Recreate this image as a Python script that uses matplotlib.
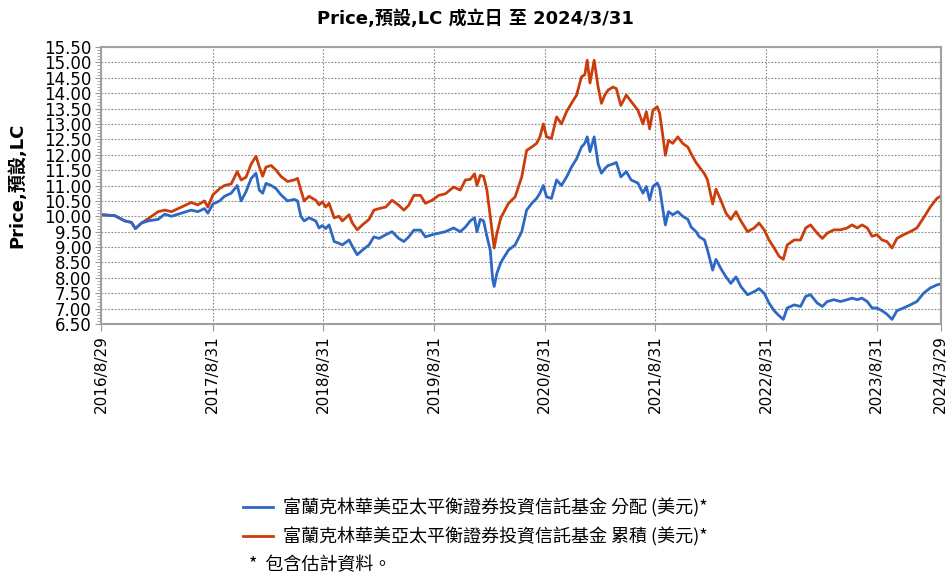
import matplotlib
matplotlib.use("Agg")
import matplotlib.pyplot as plt
from matplotlib.ticker import MultipleLocator, FormatStrFormatter
from matplotlib.lines import Line2D
import pandas as pd

# Dados (datas aproximadas, preço em USD)
datas = [
    "2016-08-29", "2016-10-12", "2016-11-14", "2016-12-06", "2016-12-19", "2017-01-08",
    "2017-01-30", "2017-03-04", "2017-03-26", "2017-04-17", "2017-05-20", "2017-06-21",
    "2017-07-13", "2017-08-04", "2017-08-15", "2017-09-01", "2017-09-23", "2017-10-09",
    "2017-10-31", "2017-11-20", "2017-12-03", "2017-12-19", "2018-01-05", "2018-01-21",
    "2018-02-01", "2018-02-12", "2018-02-23", "2018-03-12", "2018-03-28", "2018-04-13",
    "2018-05-05", "2018-05-27", "2018-06-07", "2018-06-18", "2018-06-29", "2018-07-15",
    "2018-08-06", "2018-08-17", "2018-08-28", "2018-09-08", "2018-09-19", "2018-10-06",
    "2018-10-22", "2018-11-02", "2018-11-24", "2018-12-05", "2018-12-21", "2019-01-07",
    "2019-01-29", "2019-02-14", "2019-03-03", "2019-03-25", "2019-04-15", "2019-05-07",
    "2019-05-24", "2019-06-09", "2019-06-26", "2019-07-18", "2019-08-03", "2019-08-25",
    "2019-09-16", "2019-10-08", "2019-11-04", "2019-11-26", "2019-12-13", "2019-12-29",
    "2020-01-12", "2020-01-20", "2020-01-31", "2020-02-11", "2020-02-22", "2020-03-04",
    "2020-03-12", "2020-03-17", "2020-03-26", "2020-04-08", "2020-05-03", "2020-05-25",
    "2020-06-16", "2020-07-02", "2020-07-19", "2020-08-04", "2020-08-15", "2020-08-26",
    "2020-09-06", "2020-09-22", "2020-10-09", "2020-10-25", "2020-11-11", "2020-11-27",
    "2020-12-14", "2020-12-30", "2021-01-10", "2021-01-18", "2021-01-27", "2021-02-10",
    "2021-02-23", "2021-03-06", "2021-03-17", "2021-03-28", "2021-04-13", "2021-04-24",
    "2021-05-09", "2021-05-27", "2021-06-12", "2021-07-04", "2021-07-21", "2021-08-01",
    "2021-08-12", "2021-08-23", "2021-09-06", "2021-09-14", "2021-09-25", "2021-10-03",
    "2021-10-13", "2021-10-27", "2021-11-13", "2021-11-29", "2021-12-16", "2021-12-27",
    "2022-01-12", "2022-01-23", "2022-02-09", "2022-02-19", "2022-03-08", "2022-03-19",
    "2022-04-04", "2022-04-21", "2022-05-07", "2022-05-24", "2022-06-09", "2022-07-01",
    "2022-07-23", "2022-08-08", "2022-08-25", "2022-09-10", "2022-09-27", "2022-10-13",
    "2022-10-27", "2022-11-09", "2022-12-02", "2022-12-23", "2023-01-09", "2023-01-25",
    "2023-02-16", "2023-03-05", "2023-03-21", "2023-04-12", "2023-05-04", "2023-05-26",
    "2023-06-11", "2023-06-28", "2023-07-14", "2023-07-31", "2023-08-16", "2023-09-01",
    "2023-09-18", "2023-10-04", "2023-10-21", "2023-11-06", "2023-11-28", "2023-12-20",
    "2024-01-11", "2024-02-02", "2024-02-24", "2024-03-17", "2024-03-29",
]

preco_distribuicao = [
    10.05, 10.02, 9.85, 9.80, 9.60, 9.78,
    9.85, 9.90, 10.07, 10.00, 10.10, 10.20,
    10.15, 10.25, 10.10, 10.40, 10.50, 10.65,
    10.75, 11.00, 10.50, 10.80, 11.23, 11.40,
    10.85, 10.75, 11.07, 11.00, 10.90, 10.70,
    10.50, 10.55, 10.50, 10.00, 9.85, 9.95,
    9.85, 9.62, 9.70, 9.60, 9.72, 9.18,
    9.12, 9.07, 9.23, 9.02, 8.75, 8.90,
    9.07, 9.33, 9.28, 9.40, 9.50, 9.28,
    9.18, 9.33, 9.55, 9.55, 9.33, 9.40,
    9.45, 9.50, 9.62, 9.50, 9.65, 9.85,
    9.95, 9.50, 9.90, 9.85, 9.35, 8.90,
    7.95, 7.72, 8.15, 8.50, 8.90, 9.07,
    9.50, 10.20, 10.42, 10.58, 10.75, 11.00,
    10.63, 10.58, 11.18, 11.00, 11.28, 11.60,
    11.87, 12.25, 12.37, 12.58, 12.10, 12.58,
    11.70, 11.40, 11.55, 11.65, 11.70, 11.75,
    11.28, 11.45, 11.18, 11.08, 10.75, 10.97,
    10.53, 10.97, 11.08, 10.92, 10.20, 9.72,
    10.15, 10.05, 10.15, 10.00, 9.90, 9.65,
    9.50, 9.33, 9.23, 8.90, 8.25, 8.60,
    8.30, 8.03, 7.82, 8.03, 7.72, 7.45,
    7.55, 7.65, 7.50, 7.18, 6.93, 6.77,
    6.65, 7.02, 7.12, 7.07, 7.40, 7.45,
    7.18, 7.07, 7.23, 7.29, 7.23, 7.29,
    7.34, 7.29, 7.34, 7.23, 7.02, 7.02,
    6.93, 6.82, 6.65, 6.93, 7.02, 7.12,
    7.23, 7.50, 7.67, 7.77, 7.80,
]

preco_acumulacao = [
    10.05, 10.02, 9.85, 9.80, 9.60, 9.78,
    9.92, 10.15, 10.20, 10.15, 10.30, 10.45,
    10.37, 10.50, 10.30, 10.70, 10.90, 11.00,
    11.05, 11.45, 11.18, 11.27, 11.70, 11.95,
    11.60, 11.30, 11.60, 11.65, 11.50, 11.30,
    11.13, 11.18, 11.23, 10.85, 10.50, 10.65,
    10.52, 10.37, 10.47, 10.30, 10.42, 9.95,
    10.00, 9.85, 10.05, 9.78, 9.56, 9.72,
    9.90, 10.20, 10.25, 10.30, 10.52, 10.36,
    10.20, 10.36, 10.68, 10.68, 10.42, 10.52,
    10.68, 10.73, 10.95, 10.85, 11.18, 11.20,
    11.38, 11.00, 11.33, 11.30, 10.85, 10.00,
    9.35, 8.97, 9.45, 9.95, 10.42, 10.63,
    11.28, 12.14, 12.25, 12.37, 12.58, 13.00,
    12.58, 12.53, 13.23, 13.00, 13.40, 13.67,
    13.94, 14.53, 14.60, 15.07, 14.33, 15.07,
    14.20, 13.67, 13.94, 14.10, 14.20, 14.15,
    13.60, 13.94, 13.73, 13.45, 13.00, 13.40,
    12.84, 13.45, 13.56, 13.35, 12.58, 11.98,
    12.47, 12.37, 12.58, 12.37, 12.25, 12.03,
    11.75, 11.60, 11.38, 11.18, 10.40, 10.88,
    10.52, 10.10, 9.90, 10.15, 9.85, 9.50,
    9.62, 9.78, 9.56, 9.23, 8.97, 8.70,
    8.60, 9.07, 9.23, 9.23, 9.62, 9.72,
    9.45, 9.28, 9.45, 9.56, 9.56, 9.62,
    9.72, 9.62, 9.72, 9.62, 9.35, 9.40,
    9.23, 9.18, 8.97, 9.28, 9.40, 9.50,
    9.62, 9.95, 10.30, 10.58, 10.65,
]

datas_ticks = ["2016-08-29", "2017-08-31", "2018-08-31", "2019-08-31", "2020-08-31",
               "2021-08-31", "2022-08-31", "2023-08-31", "2024-03-29"]
rotulos_ticks = ["2016/8/29", "2017/8/31", "2018/8/31", "2019/8/31", "2020/8/31",
                 "2021/8/31", "2022/8/31", "2023/8/31", "2024/3/29"]

nome_dist = "富蘭克林華美亞太平衡證券投資信託基金 分配 (美元)*"
nome_acum = "富蘭克林華美亞太平衡證券投資信託基金 累積 (美元)*"

cor_azul = "#2E68C6"
cor_laranja = "#CC3D0C"
cjk = ["Noto Sans CJK TC", "DejaVu Sans"]
misto = ["DejaVu Sans", "Noto Sans CJK TC"]

x = pd.to_datetime(datas)
xt = pd.to_datetime(datas_ticks)

fig = plt.figure(figsize=(9.51, 5.77), dpi=100)
ax = fig.add_axes([0.1067, 0.4385, 0.8823, 0.48])

ax.plot(x, preco_acumulacao, color=cor_laranja, lw=2.0)
ax.plot(x, preco_distribuicao, color=cor_azul, lw=2.0)

ax.set_xlim(xt[0], xt[-1])
ax.set_ylim(6.5, 15.5)
ax.yaxis.set_major_locator(MultipleLocator(0.5))
ax.yaxis.set_minor_locator(MultipleLocator(0.1))
ax.yaxis.set_major_formatter(FormatStrFormatter("%.2f"))
ax.set_xticks(xt)
ax.set_xticklabels(rotulos_ticks, rotation=90, fontsize=11, family="DejaVu Sans")
ax.tick_params(axis="y", which="major", labelsize=12, length=4, color="#999999", pad=3)
ax.tick_params(axis="y", which="minor", length=3, color="#999999")
ax.tick_params(axis="x", length=5, color="#999999", pad=3)

ax.grid(True, which="major", axis="both", linestyle=(0, (1.5, 1.5)), color="#888888", lw=0.8)
for s in ax.spines.values():
    s.set_color("#a0a0a0")
    s.set_linewidth(1.5)

ax.set_ylabel("Price,預設,LC", family=misto, fontweight="bold", fontsize=13)
ax.yaxis.set_label_coords(-0.089, 0.5)
fig.text(0.5, 0.968, "Price,預設,LC 成立日 至 2024/3/31", family=misto, fontweight="bold",
         fontsize=13, ha="center", va="center")

handles = [Line2D([], [], color=cor_azul, lw=2), Line2D([], [], color=cor_laranja, lw=2)]
leg = fig.legend(handles, [nome_dist, nome_acum], loc="upper left", frameon=False,
                 prop={"family": cjk, "size": 13}, handlelength=1.65,
                 handletextpad=0.55, labelspacing=0.55, borderaxespad=0,
                 borderpad=0)
leg.set_bbox_to_anchor((0.2555, 0.136), transform=fig.transFigure)
fig.text(0.262, 0.021, "*  包含估計資料。", family=cjk, fontsize=13, ha="left", va="center")

fig.savefig("out.png", dpi=100)
